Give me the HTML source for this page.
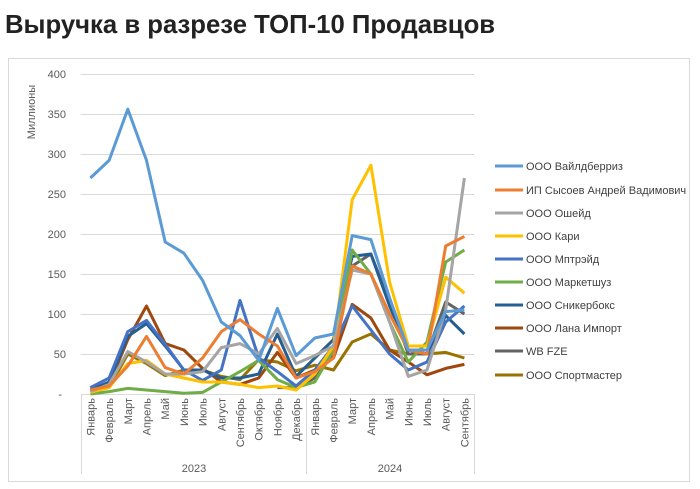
<!DOCTYPE html>
<html><head><meta charset="utf-8"><style>
html,body{margin:0;padding:0;background:#fff;}
body{width:700px;height:484px;overflow:hidden;font-family:"Liberation Sans","DejaVu Sans",sans-serif;}
</style></head><body>
<svg id="s" width="700" height="484" xmlns="http://www.w3.org/2000/svg" font-family="Liberation Sans, DejaVu Sans, sans-serif">
<text x="5" y="33" font-size="25.7" font-weight="bold" fill="#222">Выручка в разрезе ТОП-10 Продавцов</text>
<rect x="8.5" y="58.5" width="681" height="423" fill="none" stroke="#d9d9d9"/>
<g stroke="#d9d9d9" stroke-width="1">
<line x1="81" x2="474" y1="74.5" y2="74.5"/><line x1="81" x2="474" y1="114.5" y2="114.5"/>
<line x1="81" x2="474" y1="154.5" y2="154.5"/><line x1="81" x2="474" y1="194.5" y2="194.5"/>
<line x1="81" x2="474" y1="234.5" y2="234.5"/><line x1="81" x2="474" y1="274.5" y2="274.5"/>
<line x1="81" x2="474" y1="314.5" y2="314.5"/><line x1="81" x2="474" y1="354.5" y2="354.5"/>
<line x1="81" x2="474" y1="394.5" y2="394.5"/>
<line x1="81.5" x2="81.5" y1="394" y2="474"/><line x1="306.5" x2="306.5" y1="394" y2="474"/><line x1="474.5" x2="474.5" y1="394" y2="474"/>
</g>
<g font-size="11" fill="#595959" text-anchor="end">
<text x="66" y="78">400</text><text x="66" y="118">350</text><text x="66" y="158">300</text>
<text x="66" y="198">250</text><text x="66" y="238">200</text><text x="66" y="278">150</text>
<text x="66" y="318">100</text><text x="66" y="358">50</text><text x="62" y="398">-</text>
</g>
<text transform="translate(35,112) rotate(-90)" font-size="11" fill="#595959" text-anchor="middle">Миллионы</text>
<g font-size="11" fill="#595959" text-anchor="end" id="months"></g>
<text x="194" y="472" font-size="11" fill="#595959" text-anchor="middle">2023</text>
<text x="390" y="472" font-size="11" fill="#595959" text-anchor="middle">2024</text>
<g id="lines" fill="none" stroke-width="3" stroke-linejoin="round"></g>
<g font-size="11" fill="#404040">
<line x1="495" x2="523" y1="166" y2="166" stroke="#5B9BD5" stroke-width="3"/><text x="526" y="170">ООО Вайлдберриз</text>
<line x1="495" x2="523" y1="190" y2="190" stroke="#ED7D31" stroke-width="3"/><text x="526" y="194">ИП Сысоев Андрей Вадимович</text>
<line x1="495" x2="523" y1="213" y2="213" stroke="#A5A5A5" stroke-width="3"/><text x="526" y="217">ООО Ошейд</text>
<line x1="495" x2="523" y1="236" y2="236" stroke="#FFC000" stroke-width="3"/><text x="526" y="240">ООО Кари</text>
<line x1="495" x2="523" y1="259" y2="259" stroke="#4472C4" stroke-width="3"/><text x="526" y="263">ООО Мптрэйд</text>
<line x1="495" x2="523" y1="282" y2="282" stroke="#70AD47" stroke-width="3"/><text x="526" y="286">ООО Маркетшуз</text>
<line x1="495" x2="523" y1="305" y2="305" stroke="#255E91" stroke-width="3"/><text x="526" y="309">ООО Сникербокс</text>
<line x1="495" x2="523" y1="328" y2="328" stroke="#9E480E" stroke-width="3"/><text x="526" y="332">ООО Лана Импорт</text>
<line x1="495" x2="523" y1="351" y2="351" stroke="#636363" stroke-width="3"/><text x="526" y="355">WB FZE</text>
<line x1="495" x2="523" y1="375" y2="375" stroke="#997300" stroke-width="3"/><text x="526" y="379">ООО Спортмастер</text>
</g>
</svg>
<script>
var X=function(i){return 90.4+18.7*i}, Y=function(v){return 394-0.8*v};
var m=["Январь","Февраль","Март","Апрель","Май","Июнь","Июль","Август","Сентябрь","Октябрь","Ноябрь","Декабрь","Январь","Февраль","Март","Апрель","Май","Июнь","Июль","Август","Сентябрь"];
var g=document.getElementById('months'),ns="http://www.w3.org/2000/svg";
m.forEach(function(t,i){var e=document.createElementNS(ns,'text');e.setAttribute('transform','translate('+(X(i)+4)+',398) rotate(-90)');e.textContent=t;g.appendChild(e);});
var S=[
["#997300",[3,8,50,38,23,30,30,22,18,43,40,29,36,30,65,75,55,50,50,52,45]],
["#636363",[null,null,null,null,null,null,null,null,null,null,8,8,20,50,160,175,115,50,50,115,100]],
["#9E480E",[7,12,68,110,63,55,32,15,12,20,52,20,30,45,112,95,55,40,24,32,37]],
["#255E91",[5,15,72,88,60,30,30,20,20,25,75,22,45,68,172,175,110,55,50,98,75]],
["#70AD47",[0,3,7,5,3,1,2,15,28,42,18,8,15,55,180,150,90,40,65,165,180]],
["#4472C4",[8,20,78,92,62,30,17,30,117,45,28,10,30,60,110,80,50,30,40,90,110]],
["#FFC000",[2,8,38,42,25,20,15,15,12,8,10,5,25,60,243,286,140,60,60,146,126]],
["#A5A5A5",[3,12,53,40,25,25,28,58,63,50,82,38,48,60,155,150,90,22,30,105,270]],
["#ED7D31",[5,10,35,72,33,25,45,78,93,75,60,20,28,45,160,150,100,55,50,185,197]],
["#5B9BD5",[270,292,356,292,190,176,142,90,73,42,107,48,70,75,198,193,120,55,55,103,105]]
];
var L=document.getElementById('lines');
S.forEach(function(s){var p=[];s[1].forEach(function(v,i){if(v!==null)p.push(X(i).toFixed(1)+','+Y(v).toFixed(1));});
var e=document.createElementNS(ns,'polyline');e.setAttribute('points',p.join(' '));e.setAttribute('stroke',s[0]);L.appendChild(e);});
</script>
</body></html>
